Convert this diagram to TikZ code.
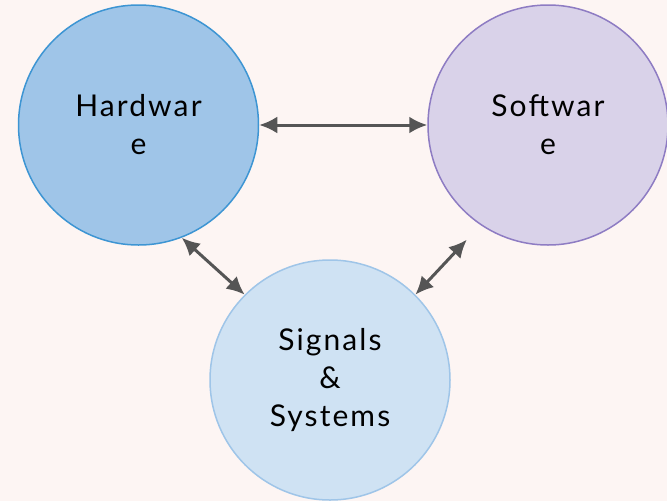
\documentclass[tikz,border=0pt]{standalone}
\usepackage{fontspec}
\setmainfont{Lato}[LetterSpace=7]
\usetikzlibrary{arrows.meta}
\definecolor{bg}{HTML}{FDF5F3}
\definecolor{hwfill}{HTML}{9FC5E8}
\definecolor{hwline}{HTML}{3D95D3}
\definecolor{swfill}{HTML}{D9D2E9}
\definecolor{swline}{HTML}{8E7CC3}
\definecolor{sgfill}{HTML}{CFE2F3}
\definecolor{sgline}{HTML}{9FC5E8}
\definecolor{arr}{HTML}{555555}
\begin{document}
\begin{tikzpicture}[x=1pt,y=-1pt,
  blob/.style={circle,minimum size=240pt,inner sep=0pt,line width=1.5pt,
    align=center,font=\fontsize{30}{38}\selectfont,text=black},
  link/.style={draw=arr,line width=3pt,{Latex[length=18pt,width=17pt]}-{Latex[length=18pt,width=17pt]}}]
\fill[bg] (0,0) rectangle (667,501);
\useasboundingbox (0,0) rectangle (667,501);
\node[blob,fill=hwfill,draw=hwline] (hw) at (138.5,125) {Hardwar\\e};
\node[blob,fill=swfill,draw=swline] (sw) at (548,125) {Softwar\\e};
\node[blob,fill=sgfill,draw=sgline] (sg) at (330,380) {Signals\\\&\\Systems};
\draw[link] (hw.east) -- (sw.west);
\draw[link] (hw.-69) -- (sg.135);
\draw[link,shorten >=20pt] (sg.45) -- (sw.236);
\end{tikzpicture}
\end{document}
